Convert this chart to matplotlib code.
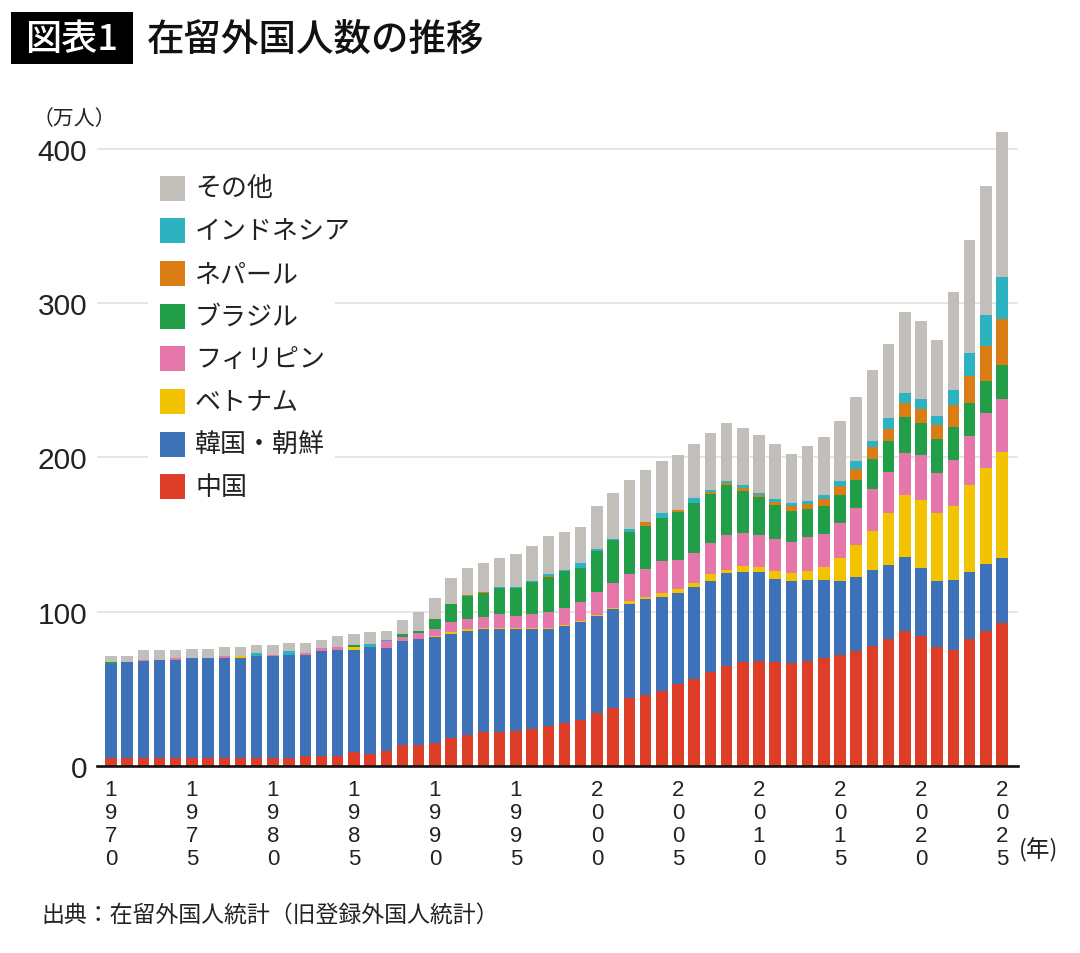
import numpy as np
import matplotlib
matplotlib.use("Agg")
import matplotlib.pyplot as plt
from matplotlib.patches import Rectangle

years = list(range(1970, 2026))

china = [5.2]*12 + [6.8, 6.8, 6.8, 8.9, 7.8, 9.7, 13.4, 13.3, 14.9, 18.1, 20.3, 21.8, 21.8,
         22.9, 24.0, 26.1, 27.7, 29.8, 34.5, 37.6, 43.9, 46.2, 48.4, 53.1, 56.6, 60.9,
         65.1, 67.6, 68.1, 67.6, 66.5, 68.1, 69.8, 71.7, 74.7, 78.0, 82.6, 87.6, 84.3,
         77.2, 75.5, 82.6, 87.6, 92.5]
korea = [60.7, 62.5, 62.8, 63.3, 63.5, 64.8, 64.8, 64.7, 65.0, 66.2, 65.9, 67.0, 65.4,
         67.9, 68.4, 66.4, 69.0, 66.9, 67.9, 69.0, 68.9, 67.7, 67.2, 67.0, 67.0, 65.9,
         64.8, 62.7, 62.8, 63.3, 62.5, 64.1, 61.3, 61.8, 61.1, 59.0, 59.6, 59.0, 59.7,
         58.3, 57.5, 53.9, 53.3, 52.3, 50.6, 48.1, 47.6, 49.2, 47.9, 47.6, 43.7, 42.6,
         44.9, 43.3, 43.2, 42.1]
vietnam = [0, 0, 0, 0, 0, 0, 0, 0, 1.3, 0, 0, 0, 0, 0, 0, 2.0, 0, 0, 0, 0, 0.3, 0.8,
           1.3, 0.8, 0.8, 0.8, 0.8, 0.8, 1.1, 0.9, 0.9, 0.9, 1.7, 1.3, 2.4, 2.8, 2.4, 4.6,
           2.4, 3.5, 3.5, 5.2, 5.5, 6.3, 8.7, 14.8, 20.8, 25.2, 33.4, 40.4, 44.6, 44.1,
           48.1, 56.0, 62.4, 68.7]
philippines = [0, 0, 0.5, 0, 1.5, 0, 0, 1.4, 0, 0, 0.8, 0, 1.2, 1.6, 1.7, 0, 0, 4.2, 2.5,
               3.9, 4.7, 6.5, 6.5, 6.8, 8.9, 7.4, 8.9, 10.0, 10.8, 12.3, 14.7, 16.0, 17.7,
               18.4, 20.8, 18.6, 19.2, 20.0, 22.5, 21.4, 20.3, 20.2, 19.7, 21.9, 21.4, 23.0,
               24.3, 26.8, 26.5, 27.4, 29.0, 26.0, 29.9, 32.1, 35.3, 34.7]
brazil = [1.8, 0, 0, 0, 0, 0, 0, 0, 0, 0, 0, 0, 0, 0, 0, 1.3, 0, 0, 1.7, 1.5, 6.5, 12.1,
          14.7, 15.9, 16.7, 18.4, 20.5, 22.9, 24.0, 22.0, 26.9, 27.7, 27.3, 28.0, 28.0,
          30.9, 32.4, 32.0, 32.2, 27.3, 24.9, 22.5, 20.5, 18.0, 18.3, 18.0, 17.8, 19.7,
          20.5, 23.0, 20.8, 22.1, 21.0, 21.3, 21.0, 21.6]
nepal = [0]*22 + [1.0, 0.6, 0, 0, 0, 0.6, 0, 0, 0, 0, 0, 2.2, 0, 1.5, 0, 1.2, 1.4, 1.9,
                  1.6, 1.6, 2.8, 3.0, 4.4, 5.8, 7.1, 7.9, 7.7, 9.3, 9.1, 9.1, 14.5, 17.2,
                  22.7, 30.1]
indonesia = [0, 0, 0, 0, 0, 0, 0, 0, 0, 2.0, 0, 2.3, 0, 0, 0, 0, 2.5, 0.8, 0, 0, 0, 0, 0,
             0, 1.0, 0.8, 1.0, 1.5, 0.7, 3.1, 0.9, 0.9, 1.7, 0, 3.3, 0, 3.5, 1.3, 1.4, 1.9,
             1.1, 1.9, 1.9, 1.9, 2.4, 3.3, 5.2, 3.6, 6.8, 6.6, 6.5, 5.7, 9.6, 15.1, 20.0,
             27.4]
other = [3.7, 3.8, 6.7, 6.7, 5.0, 6.0, 6.0, 5.9, 5.7, 4.8, 6.3, 5.0, 6.1, 5.6, 7.6, 6.8,
         7.5, 6.0, 9.1, 11.9, 13.4, 16.4, 17.1, 18.7, 18.8, 21.2, 22.4, 24.7, 24.3, 23.7,
         28.3, 29.9, 31.6, 34.1, 33.9, 35.7, 35.0, 36.6, 37.7, 37.0, 37.2, 35.6, 32.3,
         35.6, 37.3, 39.1, 41.4, 46.0, 48.2, 52.5, 50.6, 49.0, 64.0, 73.3, 83.4, 93.8]

series_names = ["中国", "韓国・朝鮮", "ベトナム", "フィリピン", "ブラジル", "ネパール",
                "インドネシア", "その他"]
series_values = [china, korea, vietnam, philippines, brazil, nepal, indonesia, other]
series_colors = ["#DE3D27", "#3D72B9", "#F2C300", "#E677AB", "#239E48", "#D97D14",
                 "#2DB2C1", "#C2BFBB"]

yticks = [0, 100, 200, 300, 400]
xtick_years = list(range(1970, 2026, 5))

CJK = ["Noto Sans CJK JP", "DejaVu Sans"]
NUM = ["Liberation Sans", "DejaVu Sans"]

W, H = 1080, 954
fig = plt.figure(figsize=(W / 100, H / 100), dpi=100)
fig.patch.set_facecolor("white")


def fx(x):
    return x / W


def fy(y):
    return 1 - y / H


ax_left, ax_right, ax_base = 97, 1018, 767
ppu = 1.543
ymax = 415
ax = fig.add_axes([fx(ax_left), fy(ax_base), (ax_right - ax_left) / W, ymax * ppu / H])

bottom = np.zeros(len(years))
for vals, col in zip(series_values, series_colors):
    v = np.array(vals, dtype=float)
    ax.bar(years, v, bottom=bottom, width=0.71, color=col, linewidth=0, zorder=2)
    bottom += v

ax.set_xlim(1969.14, 2025.99)
ax.set_ylim(0, ymax)
ax.set_axisbelow(True)
ax.set_yticks(yticks)
ax.set_yticklabels([str(t) for t in yticks], fontfamily=NUM, fontsize=21.5, color="#222222")
ax.yaxis.grid(True, color="#e4e4e4", linewidth=1.3)
ax.tick_params(axis="y", length=0, pad=7)
ax.set_xticks(xtick_years)
ax.set_xticklabels(["\n".join(str(y)) for y in xtick_years], fontfamily=NUM,
                   fontsize=16, color="#222222", linespacing=1.13)
ax.tick_params(axis="x", length=0, pad=9.5)
for s in ["left", "right", "top"]:
    ax.spines[s].set_visible(False)
ax.spines["bottom"].set_color("#111111")
ax.spines["bottom"].set_linewidth(1.9)
ax.spines["bottom"].set_zorder(5)

# title
fig.patches.append(Rectangle((fx(11), fy(65)), fx(133) - fx(11), fy(13) - fy(65),
                             transform=fig.transFigure, facecolor="black",
                             edgecolor="none"))
fig.text(fx(72), fy(40), "図表1", color="white", fontsize=26, fontweight="medium",
         fontfamily=CJK, ha="center", va="center")
fig.text(fx(147), fy(40), "在留外国人数の推移", color="#111111", fontsize=27,
         fontweight="medium", fontfamily=CJK, ha="left", va="center")

# unit labels
fig.text(fx(33), fy(119), "（万人）", fontsize=15, fontfamily=CJK, color="#222222",
         ha="left", va="center")
fig.text(fx(1019), fy(850), "(年)", fontsize=17, fontfamily=CJK, color="#222222",
         ha="left", va="center")

# legend
fig.patches.append(Rectangle((fx(148), fy(508)), fx(335) - fx(148), fy(168) - fy(508),
                             transform=fig.transFigure, facecolor="white",
                             edgecolor="none", zorder=1))
leg_y0, leg_dy = 189, 42.7
for k, idx in enumerate(range(len(series_names) - 1, -1, -1)):
    cy = leg_y0 + k * leg_dy
    fig.patches.append(Rectangle((fx(160), fy(cy + 12.5)), fx(185) - fx(160), 25 / H,
                                 transform=fig.transFigure,
                                 facecolor=series_colors[idx], edgecolor="none", zorder=2))
    fig.text(fx(195), fy(cy), series_names[idx], fontsize=18.7, fontfamily=CJK,
             color="#222222", ha="left", va="center", zorder=3)

# source
fig.text(fx(41), fy(915), "出典：在留外国人統計（旧登録外国人統計）", fontsize=16.5,
         fontfamily=CJK, color="#222222", ha="left", va="center")

fig.savefig("out.png", dpi=100, facecolor="white")
